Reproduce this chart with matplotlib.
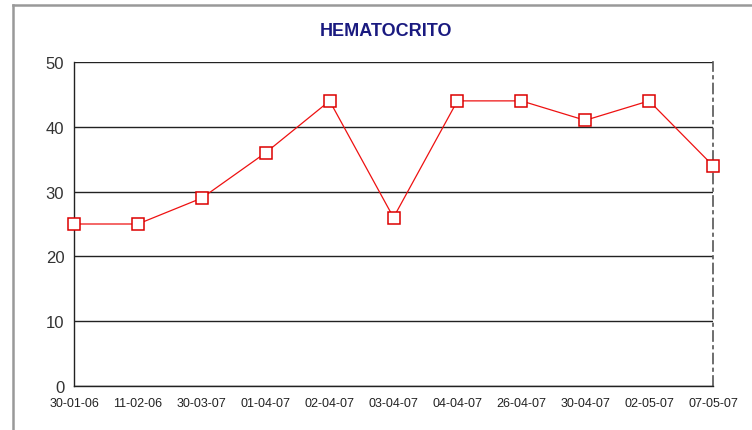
import matplotlib.pyplot as plt
from matplotlib.lines import Line2D

dates = ['30-01-06', '11-02-06', '30-03-07', '01-04-07', '02-04-07', '03-04-07',
         '04-04-07', '26-04-07', '30-04-07', '02-05-07', '07-05-07']
hematocrito = [25, 25, 29, 36, 44, 26, 44, 44, 41, 44, 34]
y_ticks = [0, 10, 20, 30, 40, 50]

plt.rcParams['font.family'] = ['Liberation Sans', 'DejaVu Sans']

fig = plt.figure(figsize=(7.52, 4.31), dpi=100)
ax = fig.add_axes([74 / 752, 1 - 387 / 431, (713 - 74) / 752, (387 - 63) / 431])

x = list(range(len(dates)))
ax.plot(x, hematocrito, color='#ee1111', lw=0.9, marker='s', markersize=8,
        markerfacecolor='white', markeredgecolor='#dd0000', markeredgewidth=1.1,
        clip_on=False, zorder=5)

ax.set_xlim(0, len(dates) - 1)
ax.set_ylim(0, 50)
ax.set_yticks(y_ticks)
ax.set_xticks(x)
ax.set_xticklabels(dates, fontsize=9)
ax.tick_params(axis='y', labelsize=12, length=0, pad=7, colors='#333333')
ax.tick_params(axis='x', length=0, pad=8, colors='#222222')
ax.yaxis.grid(True, color='#222222', lw=1)
ax.set_axisbelow(True)

for s in ['left', 'bottom']:
    ax.spines[s].set_color('#222222')
    ax.spines[s].set_linewidth(1)
ax.spines['top'].set_visible(False)
ax.spines['right'].set_color('#555555')
ax.spines['right'].set_linestyle((0, (6, 3, 1.5, 3)))
ax.spines['right'].set_linewidth(1.2)

fig.text(386 / 752, 1 - 31 / 431, 'HEMATOCRITO', ha='center', va='center',
         fontsize=13, fontweight='bold', color='#1a1a80',
         family=['Liberation Sans Narrow', 'Liberation Sans'])

# outer frame (left and top edges)
fig.add_artist(Line2D([13 / 752, 13 / 752], [0, 1 - 6 / 431], transform=fig.transFigure,
                      color='#999999', lw=1.8))
fig.add_artist(Line2D([13 / 752, 1], [1 - 6 / 431, 1 - 6 / 431], transform=fig.transFigure,
                      color='#999999', lw=1.8))

fig.savefig('out.png', dpi=100)
